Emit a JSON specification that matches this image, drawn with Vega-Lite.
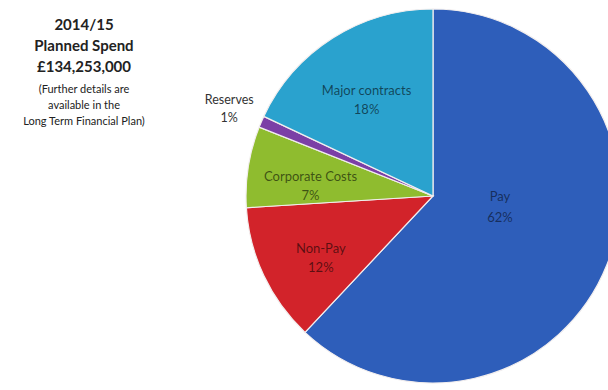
{
  "$schema": "https://vega.github.io/schema/vega-lite/v6.json",
  "autosize": "none",
  "width": 356,
  "height": 380,
  "padding": {"left": 255, "top": 6, "right": 0, "bottom": 4},
  "background": "white",
  "config": {"view": {"stroke": null}},
  "title": {
    "text": ["2014/15", "Planned Spend", "£134,253,000"],
    "subtitle": ["(Further details are", "available in the", "Long Term Financial Plan)"],
    "anchor": "start",
    "align": "center",
    "orient": "top",
    "frame": "group",
    "baseline": "top",
    "dx": -171,
    "dy": 125,
    "font": "Lato",
    "fontSize": 15,
    "fontWeight": "bold",
    "color": "#222222",
    "lineHeight": 21,
    "subtitleFont": "Lato",
    "subtitleFontSize": 11,
    "subtitleColor": "#222222",
    "subtitleLineHeight": 16,
    "subtitlePadding": 9
  },
  "data": {
    "values": [
      {"name": "Pay", "pct": 62, "idx": 1, "label": "Pay\n62%"},
      {"name": "Non-Pay", "pct": 12, "idx": 2, "label": "Non-Pay\n12%"},
      {"name": "Corporate Costs", "pct": 7, "idx": 3, "label": "Corporate  Costs\n7%"},
      {"name": "Reserves", "pct": 1, "idx": 4, "label": "Reserves\n1%"},
      {"name": "Major contracts", "pct": 18, "idx": 5, "label": "Major contracts\n18%"}
    ]
  },
  "transform": [
    {"stack": "pct", "groupby": [], "sort": [{"field": "idx", "order": "ascending"}], "as": ["t0", "t1"]},
    {"calculate": "(datum.t0 + datum.t1) / 2", "as": "tmid"}
  ],
  "resolve": {"scale": {"theta": "shared"}},
  "layer": [
    {
      "mark": {"type": "arc", "outerRadius": 187, "stroke": "#f2eeee", "strokeWidth": 1.2},
      "encoding": {
        "theta": {"field": "t0", "type": "quantitative", "scale": {"domain": [0, 100]}},
        "theta2": {"field": "t1"},
        "color": {
          "field": "name",
          "type": "nominal",
          "legend": null,
          "scale": {
            "domain": ["Pay", "Non-Pay", "Corporate Costs", "Reserves", "Major contracts"],
            "range": ["#2E5EBA", "#D2232A", "#8FBC2F", "#7B3FA6", "#2AA2CE"]
          }
        }
      }
    },
    {
      "transform": [{"filter": "datum.name !== 'Pay' && datum.name !== 'Reserves'"}],
      "mark": {"type": "text", "radius": 124, "font": "Lato", "fontSize": 13, "lineBreak": "\n", "lineHeight": 19, "fill": "#000000", "fillOpacity": 0.58},
      "encoding": {
        "theta": {"field": "tmid", "type": "quantitative", "scale": {"domain": [0, 100]}},
        "text": {"field": "label"}
      }
    },
    {
      "transform": [{"filter": "datum.name === 'Pay'"}],
      "mark": {"type": "text", "radius": 72, "dy": -26, "font": "Lato", "fontSize": 13, "lineBreak": "\n", "lineHeight": 21, "fill": "#000000", "fillOpacity": 0.52},
      "encoding": {
        "theta": {"field": "tmid", "type": "quantitative", "scale": {"domain": [0, 100]}},
        "text": {"field": "label"}
      }
    },
    {
      "transform": [{"filter": "datum.name === 'Reserves'"}],
      "mark": {"type": "text", "radius": 222, "dy": -8, "font": "Lato", "fontSize": 12.5, "lineBreak": "\n", "lineHeight": 18, "fill": "#333333"},
      "encoding": {
        "theta": {"field": "tmid", "type": "quantitative", "scale": {"domain": [0, 100]}},
        "text": {"field": "label"}
      }
    }
  ]
}
